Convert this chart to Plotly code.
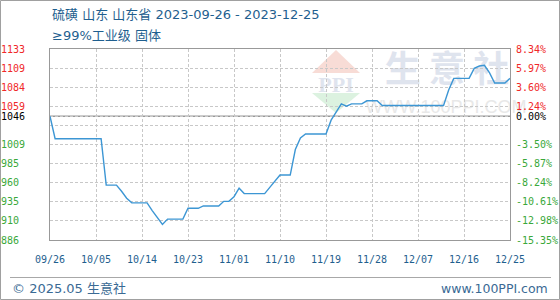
import plotly.graph_objects as go
import pandas as pd

# ---------------- data ----------------
start_date = "2023-09-26"
end_date = "2023-12-25"
dates = pd.date_range(start_date, end_date, freq="D")
prices = [
    1046, 1017, 1017, 1017, 1017, 1017, 1017, 1017, 1017, 1017,
    1017, 957, 957, 957, 949, 940, 934, 934, 934, 934,
    924, 915, 906, 913, 913, 913, 913, 927, 927, 927,
    930, 930, 930, 930, 936, 936, 942, 953, 946, 946,
    946, 946, 946, 954, 962, 970, 970, 970, 1003, 1018,
    1023, 1023, 1023, 1023, 1023, 1041, 1052, 1062, 1059, 1062,
    1062, 1062, 1066, 1066, 1066, 1060, 1060, 1060, 1060, 1060,
    1060, 1060, 1060, 1060, 1060, 1060, 1060, 1060, 1080, 1095,
    1095, 1095, 1095, 1108, 1111, 1112, 1102, 1089, 1089, 1089,
    1095,
]
base_value = 1046
y_min, y_max = 886, 1133
y_tick_vals = [886, 910.7, 935.4, 960.1, 984.8, 1009.5, 1034.2, 1058.9, 1083.6, 1108.3, 1133, 1046]
y_left_labels = ["886", "910", "935", "960", "985", "1009", "", "1059", "1084", "1109", "1133", "1046"]
y_right_labels = ["-15.35%", "-12.98%", "-10.61%", "-8.24%", "-5.87%", "-3.50%", "",
                  "1.24%", "3.60%", "5.97%", "8.34%", "0.00%"]
x_tick_labels = ["09/26", "10/05", "10/14", "10/23", "11/01", "11/10",
                 "11/19", "11/28", "12/07", "12/16", "12/25"]
x_tick_vals = pd.date_range(start_date, end_date, freq="9D")

title_line1 = "硫磺 山东 山东省 2023-09-26 - 2023-12-25"
title_line2 = "≥99%工业级 固体"
footer_left = "© 2025.05 生意社"
footer_right = "www.100PPI.com"

# ---------------- styling ----------------
RED = "#f02828"
GREEN = "#3aa83a"
BLACK = "#000000"
BLUE_TXT = "#1f5f8f"
LINE = "#3c96d4"
GRID = "#c8c8c8"
BORDER = "#999999"

W, H = 560, 300
ML, MR, MT, MB = 50, 50, 49, 60
PW, PH = W - ML - MR, H - MT - MB


def px_x(px):
    return (px - ML) / PW


def px_y(py):
    return (H - MB - py) / PH


def colored(label, val, pad_to=0):
    if label == "":
        return ""
    if abs(val - base_value) < 1e-6:
        c = BLACK
    elif val > base_value:
        c = RED
    else:
        c = GREEN
    txt = label + "\u00a0" * max(0, pad_to - len(label))
    return f'<span style="color:{c}">{txt}</span>'


left_text = [colored(l, v, 4) for l, v in zip(y_left_labels, y_tick_vals)]
right_text = [colored(l, v) for l, v in zip(y_right_labels, y_tick_vals)]

fig = go.Figure()
fig.add_trace(go.Scatter(
    x=dates, y=prices, mode="lines",
    line=dict(color=LINE, width=1.4), hoverinfo="skip", showlegend=False,
))
fig.add_trace(go.Scatter(
    x=dates, y=prices, mode="lines", yaxis="y2",
    line=dict(color="rgba(0,0,0,0)", width=0), hoverinfo="skip", showlegend=False,
))

tickfont = dict(family="DejaVu Sans Mono", size=10, color=BLACK)

fig.update_layout(
    width=W, height=H,
    margin=dict(l=ML, r=MR, t=MT, b=MB, pad=0, autoexpand=False),
    paper_bgcolor="white", plot_bgcolor="white",
    showlegend=False,
    xaxis=dict(
        type="date",
        range=[start_date, end_date],
        tickvals=list(x_tick_vals), ticktext=x_tick_labels,
        tickfont=dict(family="DejaVu Sans Mono", size=10, color=BLUE_TXT),
        showgrid=True, gridcolor=GRID, griddash="3px,2px", gridwidth=1,
        showline=True, linecolor=BORDER, linewidth=1, mirror=True,
        ticks="", ticklabelstandoff=10, zeroline=False, fixedrange=True,
        automargin=False,
    ),
    yaxis=dict(
        range=[y_min, y_max],
        tickvals=y_tick_vals, ticktext=left_text,
        tickfont=tickfont,
        showgrid=True, gridcolor=GRID, griddash="3px,2px", gridwidth=1,
        showline=True, linecolor=BORDER, linewidth=1, mirror=True,
        ticks="", ticklabelstandoff=22, zeroline=False, fixedrange=True,
        automargin=False,
    ),
    yaxis2=dict(
        range=[y_min, y_max], overlaying="y", side="right",
        tickvals=y_tick_vals, ticktext=right_text,
        tickfont=tickfont, showgrid=False, showline=False,
        ticks="", ticklabelstandoff=5, zeroline=False, fixedrange=True,
        automargin=False,
    ),
)

shapes = []
# outer frame
shapes.append(dict(type="rect", xref="paper", yref="paper",
                   x0=px_x(0.5), x1=px_x(W - 0.5), y0=px_y(H - 0.5), y1=px_y(0.5),
                   line=dict(color="#a0a0a0", width=1), layer="below"))
# footer separator
shapes.append(dict(type="line", xref="paper", yref="paper",
                   x0=px_x(10), x1=px_x(551), y0=px_y(277.5), y1=px_y(277.5),
                   line=dict(color="#a8a8a8", width=1)))
# base line
shapes.append(dict(type="line", xref="paper", yref="y", x0=0, x1=1,
                   y0=base_value, y1=base_value,
                   line=dict(color=BORDER, width=1.5), layer="between"))
# watermark logo triangles
shapes.append(dict(type="path", xref="paper", yref="paper", layer="between",
                   path=f"M {px_x(312)} {px_y(73)} L {px_x(336)} {px_y(50)} L {px_x(360)} {px_y(73)} Z",
                   fillcolor="#f8dcd6", line=dict(width=0)))
shapes.append(dict(type="path", xref="paper", yref="paper", layer="between",
                   path=f"M {px_x(312)} {px_y(93)} L {px_x(336)} {px_y(113)} L {px_x(360)} {px_y(93)} Z",
                   fillcolor="#dcf2e0", line=dict(width=0)))
# watermark text via shape labels
shapes.append(dict(type="rect", xref="paper", yref="paper", layer="between",
                   x0=px_x(312), x1=px_x(360), y0=px_y(92), y1=px_y(72),
                   line=dict(width=0), fillcolor="rgba(0,0,0,0)",
                   label=dict(text="<b>PPI</b>", font=dict(family="Liberation Serif", size=22, color="#dfe4ee"))))
shapes.append(dict(type="rect", xref="paper", yref="paper", layer="between",
                   x0=px_x(382), x1=px_x(512), y0=px_y(92), y1=px_y(52),
                   line=dict(width=0), fillcolor="rgba(0,0,0,0)",
                   label=dict(text="<b>生 意 社</b>", font=dict(family="Noto Sans CJK SC", size=36, color="#dfe4ee"))))
shapes.append(dict(type="rect", xref="paper", yref="paper", layer="between",
                   x0=px_x(380), x1=px_x(512), y0=px_y(114), y1=px_y(96),
                   line=dict(width=0), fillcolor="rgba(0,0,0,0)",
                   label=dict(text="WWW.100PPI.COM", font=dict(family="Liberation Sans", size=18, color="#e8e8e8"))))
fig.update_layout(shapes=shapes)

title_font = dict(family="DejaVu Sans, Noto Sans CJK SC", size=13, color=BLUE_TXT)
annos = [
    dict(text=title_line1, x=px_x(50), y=px_y(15), xanchor="left", yanchor="middle"),
    dict(text=title_line2, x=px_x(50), y=px_y(35), xanchor="left", yanchor="middle"),
]
for a in annos:
    a.update(xref="paper", yref="paper", showarrow=False, font=title_font)
annos.append(dict(text=footer_left, x=px_x(10), y=px_y(288), xanchor="left", yanchor="middle",
                  xref="paper", yref="paper", showarrow=False,
                  font=dict(family="DejaVu Sans, Noto Sans CJK SC", size=13, color="#3a6a94")))
annos.append(dict(text=footer_right, x=px_x(550), y=px_y(288), xanchor="right", yanchor="middle",
                  xref="paper", yref="paper", showarrow=False,
                  font=dict(family="DejaVu Sans", size=12.5, color="#3a6a94")))
fig.update_layout(annotations=annos)

fig.write_html("out.html", config={"displayModeBar": False, "staticPlot": True})
